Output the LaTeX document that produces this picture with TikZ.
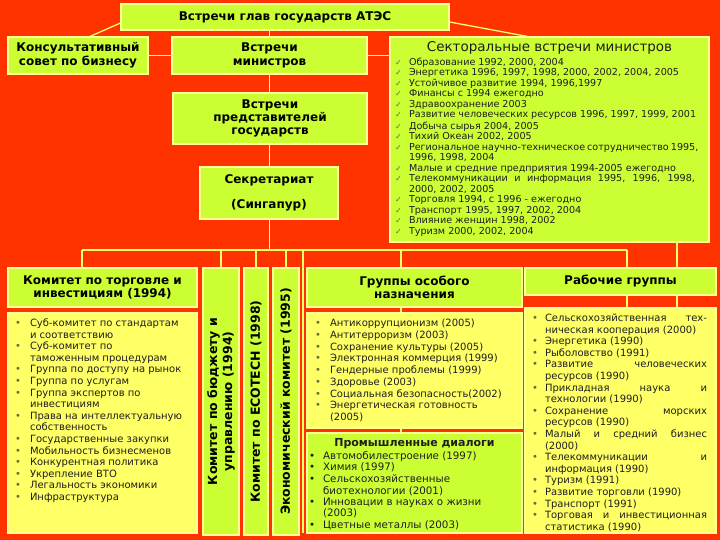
\documentclass[tikz,border=0pt]{standalone}
\usepackage{fontspec}
\setmainfont{DejaVu Sans}
\usetikzlibrary{calc}
\definecolor{bgred}{RGB}{255,51,0}
\definecolor{lime}{RGB}{204,255,51}
\definecolor{lyel}{RGB}{255,255,102}
\definecolor{edgec}{RGB}{255,255,150}
\definecolor{connc}{RGB}{255,255,102}
\definecolor{ink}{RGB}{30,30,30}
\definecolor{bulc}{RGB}{105,105,70}
\definecolor{chkc}{RGB}{90,120,40}
\pgfdeclarelayer{back}\pgfdeclarelayer{lines}\pgfsetlayers{back,lines,main}
\newlength\bw \newlength\lp \newlength\lw
\newcommand\Li[1]{\par\noindent\hspace*{\lp}\mbox{\makebox[\bw][l]{\blt}\strut#1}}
\newcommand\Lj[1]{\par\noindent\hspace*{\lp}\hbox to\lw{\makebox[\bw][l]{\blt}\strut#1}}
\newcommand\Lc[1]{\par\noindent\hspace*{\lp}\hspace*{\bw}\mbox{\strut#1}}
\tikzset{
  hbox/.style={draw=edgec, line width=1.1pt, fill=lime, inner sep=0pt, align=center,
    text=black, font=\bfseries\fontsize{12}{14}\selectfont},
  lbox/.style={draw=edgec, line width=1.1pt, fill=lyel, inner sep=0pt, text=ink},
  gbox/.style={draw=edgec, line width=1.1pt, fill=lime, inner sep=0pt, text=ink},
  rbox/.style={hbox, rotate=90, minimum width=267pt, font=\bfseries\fontsize{12.5}{15}\selectfont},
  conn/.style={draw=connc, line width=1.3pt},
}
\begin{document}
\begin{tikzpicture}[x=1pt,y=-1pt]
\useasboundingbox (0,0) rectangle (720,540);
\begin{pgfonlayer}{back}
\fill[bgred] (0,0) rectangle (720,540);
\end{pgfonlayer}

% top part
\node[hbox, minimum width=328pt, minimum height=26pt] (top) at (285,17) {Встречи глав государств АТЭС};
\node[hbox, minimum width=140pt, minimum height=37pt] (consult) at (78,55.5) {Консультативный\\совет по бизнесу};
\node[hbox, minimum width=195pt, minimum height=37pt] (ministers) at (269.5,55.5) {Встречи\\министров};
\node[hbox, minimum width=194pt, minimum height=51pt, font=\bfseries\fontsize{12}{13.3}\selectfont] (reps) at (270,118.5) {Встречи\\представителей\\государств};
\node[hbox, minimum width=138pt, minimum height=52pt] (secr) at (269,193) {Секретариат\\[11pt](Сингапур)};

\node[gbox] (sect) at (549.5,139.5) {\parbox[c][205pt][t]{319pt}{%
  \vspace*{3.8pt}{\centering\fontsize{13.5}{16}\selectfont\strut Секторальные встречи министров\par}%
  \fontsize{9.6}{10.5}\selectfont\setlength\lp{5pt}\setlength\bw{14pt}\setlength\lw{300pt}%
  \def\blt{\textcolor{chkc}{\fontsize{8}{8}\selectfont ✓}}%
  \Li{Образование 1992, 2000, 2004}
  \Li{Энергетика 1996, 1997, 1998, 2000, 2002, 2004, 2005}
  \Li{Устойчивое развитие 1994, 1996,1997}
  \Li{Финансы с 1994 ежегодно}
  \Li{Здравоохранение 2003}
  \Li{Развитие человеческих ресурсов 1996, 1997, 1999, 2001}
  \Li{Добыча сырья 2004, 2005}
  \Li{Тихий Океан 2002, 2005}
  \Lj{Региональное научно-техническое сотрудничество 1995,}
  \Lc{1996, 1998, 2004}
  \Li{Малые и средние предприятия 1994-2005 ежегодно}
  \Lj{Телекоммуникации и информация 1995, 1996, 1998,}
  \Lc{2000, 2002, 2005}
  \Li{Торговля 1994, с 1996 - ежегодно}
  \Li{Транспорт 1995, 1997, 2002, 2004}
  \Li{Влияние женщин 1998, 2002}
  \Li{Туризм 2000, 2002, 2004}\par}};

% lower row
\node[hbox, minimum width=189pt, minimum height=39pt, font=\bfseries\fontsize{12}{13.3}\selectfont] (trade) at (102.5,287.5) {Комитет по торговле и\\инвестициям (1994)};
\node[lbox] (tlist) at (102.5,423) {\parbox[c][220pt][t]{189pt}{%
  \vspace*{5.4pt}\fontsize{10}{11.6}\selectfont\setlength\lp{7pt}\setlength\bw{15pt}\setlength\lw{177pt}%
  \def\blt{\textcolor{bulc}{•}}%
  \Li{Суб-комитет по стандартам}
  \Lc{и соответствию}
  \Li{Суб-комитет по}
  \Lc{таможенным процедурам}
  \Li{Группа по доступу на рынок}
  \Li{Группа по услугам}
  \Li{Группа экспертов по}
  \Lc{инвестициям}
  \Li{Права на интеллектуальную}
  \Lc{собственность}
  \Li{Государственные закупки}
  \Li{Мобильность бизнесменов}
  \Li{Конкурентная политика}
  \Li{Укрепление ВТО}
  \Li{Легальность экономики}
  \Li{Инфраструктура}\par}};

\node[rbox, minimum height=36pt] (budget) at (221,401.5) {Комитет по бюджету и\\управлению (1994)};
\node[rbox, minimum height=24pt] (ecotech) at (256,401.5) {Комитет по ECOTECH (1998)};
\node[rbox, minimum height=26pt] (econ) at (286,401.5) {Экономический комитет (1995)};

\node[hbox, minimum width=215pt, minimum height=39pt, font=\bfseries\fontsize{12}{13}\selectfont] (groups) at (414.5,287.5) {Группы особого\\назначения};
\node[lbox] (glist) at (414.5,370.5) {\parbox[c][115pt][t]{215pt}{%
  \vspace*{5.3pt}\fontsize{10}{11.75}\selectfont\setlength\lp{8pt}\setlength\bw{15pt}\setlength\lw{200pt}%
  \def\blt{\textcolor{bulc}{•}}%
  \Li{Антикоррупционизм (2005)}
  \Li{Антитерроризм (2003)}
  \Li{Сохранение культуры (2005)}
  \Li{Электронная коммерция (1999)}
  \Li{Гендерные проблемы (1999)}
  \Li{Здоровье (2003)}
  \Li{Социальная безопасность(2002)}
  \Li{Энергетическая готовность}
  \Lc{(2005)}\par}};
\node[gbox] (ind) at (414.5,483) {\parbox[c][100pt][t]{215pt}{%
  \vspace*{5.4pt}{\centering\fontsize{11}{12}\selectfont\bfseries\strut Промышленные диалоги\par}%
  \fontsize{10.3}{11.3}\selectfont\setlength\lp{2pt}\setlength\bw{14pt}\setlength\lw{205pt}%
  \def\blt{\textcolor{ink}{•}}%
  \Li{Автомобилестроение (1997)}
  \Li{Химия (1997)}
  \Li{Сельскохозяйственные}
  \Lc{биотехнологии (2001)}
  \Li{Инновации в науках о жизни}
  \Lc{(2003)}
  \Li{Цветные металлы (2003)}\par}};

\node[hbox, minimum width=191pt, minimum height=27pt] (work) at (620.5,281.5) {Рабочие группы};
\node[lbox] (wlist) at (620.5,420.5) {\parbox[c][225pt][t]{191pt}{%
  \vspace*{5.4pt}\fontsize{10}{11.6}\selectfont\setlength\lp{7pt}\setlength\bw{13pt}\setlength\lw{175pt}%
  \def\blt{\textcolor{bulc}{•}}%
  \Lj{Сельскохозяйственная тех-}
  \Lc{ническая кооперация (2000)}
  \Li{Энергетика (1990)}
  \Li{Рыболовство (1991)}
  \Lj{Развитие человеческих}
  \Lc{ресурсов (1990)}
  \Lj{Прикладная наука и}
  \Lc{технологии (1990)}
  \Lj{Сохранение морских}
  \Lc{ресурсов (1990)}
  \Lj{Малый и средний бизнес}
  \Lc{(2000)}
  \Lj{Телекоммуникации и}
  \Lc{информация (1990)}
  \Li{Туризм (1991)}
  \Li{Развитие торговли (1990)}
  \Li{Транспорт (1991)}
  \Lj{Торговая и инвестиционная}
  \Lc{статистика (1990)}\par}};

% connectors
\coordinate (barL) at (82,250);
\coordinate (barR) at (627,250);
\coordinate (gapc) at (303,533);
\coordinate (gdrop) at (401,433);
\coordinate (wdrop) at (677,308);
\begin{pgfonlayer}{lines}
\draw[conn] ([yshift=-6pt]top.west) -- ([xshift=12pt]consult.north);
\draw[conn] ([yshift=-5pt]top.east) -- ([xshift=-22pt]sect.north);
\draw[conn] (ministers.north) -- (ministers.north |- top.south);
\draw[conn] (consult) -- (ministers);
\draw[conn] (ministers.east) -- (ministers.east -| sect.west);
\draw[conn] (ministers.south) -- (ministers.south |- barL);
\draw[conn] (barL) -- (barR);
\draw[conn] (barL) -- (barL |- trade.north);
\draw[conn] (barL -| budget) -- (budget);
\draw[conn] (barL -| ecotech) -- (ecotech);
\draw[conn] (barL -| econ) -- (econ);
\draw[conn] (barL -| gapc) -- (gapc);
\draw[conn] (barL -| gdrop) -- (gdrop);
\draw[conn] (barR) -- (barR |- wlist.north);
\draw[conn] (wdrop |- sect.south) -- (wdrop);
\end{pgfonlayer}
\end{tikzpicture}
\end{document}
